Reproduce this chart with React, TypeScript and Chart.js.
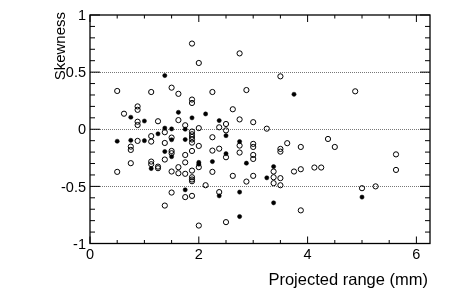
import React, { useEffect, useRef } from "react";
import { Chart, registerables } from "chart.js";

Chart.register(...registerables);

// Open circles
const openX = [
  0.5, 0.625, 0.875, 0.875, 0.875, 0.875, 1.125, 1.25, 1.5, 1.625, 1.625, 1.75, 1.875, 1.875, 1.875,
  2.0, 2.0, 2.25, 2.375, 2.5, 2.625, 2.75, 2.75, 2.875, 3.0, 3.25, 3.5, 4.875,
  0.5, 0.75, 0.75, 0.75, 0.875, 1.125, 1.125, 1.125, 1.125, 1.25, 1.25, 1.375, 1.375, 1.375, 1.375,
  1.5, 1.5, 1.5, 1.5, 1.5, 1.625, 1.625, 1.75, 1.75, 1.75, 1.75,
  1.875, 1.875, 1.875, 1.875, 1.875, 1.875, 1.875, 1.875, 1.875, 1.875, 1.875,
  2.0, 2.0, 2.0, 2.125, 2.25, 2.25, 2.25, 2.375, 2.375, 2.5, 2.5, 2.5, 2.625, 2.75, 2.75, 2.875,
  3.0, 3.0, 3.0, 3.0, 3.0, 3.375, 3.375, 3.375, 3.5, 3.5, 3.5, 3.5, 3.625, 3.75, 3.875, 3.875, 3.875,
  4.125, 4.25, 4.375, 4.5, 5.0, 5.25, 5.625, 5.625,
];
const openY = [
  0.335, 0.136, 0.2, 0.17, 0.066, 0.037, 0.326, 0.07, 0.364, 0.31, 0.08, 0.035, 0.75, 0.26, 0.23,
  0.58, 0.01, 0.326, 0.017, 0.046, 0.175, 0.664, 0.086, 0.343, 0.062, 0.005, 0.463, 0.332,
  -0.373, -0.152, -0.181, -0.297, -0.102, -0.06, -0.108, -0.283, -0.306, -0.327, -0.341, -0.026, -0.12, -0.265, -0.668,
  -0.073, -0.19, -0.21, -0.37, -0.554, -0.332, -0.385, -0.29, -0.39, -0.225, -0.594,
  -0.02, -0.044, -0.067, -0.09, -0.117, -0.19, -0.362, -0.42, -0.44, -0.455, -0.583,
  -0.146, -0.332, -0.843, -0.49, -0.07, -0.187, -0.373, -0.17, -0.55, -0.01, -0.245, -0.813, -0.408, -0.143, -0.204, -0.458,
  -0.128, -0.155, -0.225, -0.26, -0.408, -0.37, -0.42, -0.472, -0.172, -0.196, -0.428, -0.49, -0.122, -0.37, -0.155, -0.35, -0.71,
  -0.335, -0.335, -0.085, -0.155, -0.516, -0.5, -0.22, -0.356,
];

// Filled circles
const filledX = [
  0.5, 0.75, 0.75, 1.0, 1.0, 1.125, 1.25, 1.375, 1.375, 1.375, 1.5, 1.5, 1.5, 1.625, 1.75, 1.75, 1.75,
  1.875, 2.0, 2.0, 2.125, 2.25, 2.375, 2.375, 2.5, 2.5, 2.75, 2.75, 2.75, 2.875, 3.25, 3.375, 3.375, 3.75, 5.0,
];
const filledY = [
  -0.105, 0.105, -0.097, 0.072, -0.1, -0.344, -0.04, 0.47, 0.01, -0.195, 0.003, -0.092, -0.24, 0.148, 0.0, -0.09, -0.53,
  0.1, -0.29, -0.306, 0.134, -0.283, 0.076, -0.583, -0.056, -0.214, -0.108, -0.55, -0.764, -0.297, -0.425, -0.327, -0.644, 0.306, -0.594,
];

const xTickValues = [0, 2, 4, 6];
const xTickLabels = ["0", "2", "4", "6"];
const yTickValues = [-1, -0.5, 0, 0.5, 1];
const yTickLabels = ["-1", "-0.5", "0", "0.5", "1"];
const refLines = [-0.5, 0, 0.5];
const xTitle = "Projected range (mm)";
const yTitle = "Skewness";

const X_MIN = 0;
const X_MAX = 6.25;
const Y_MIN = -1;
const Y_MAX = 1;

const FONT = '"Liberation Sans", Arial, Helvetica, sans-serif';

const framePlugin = {
  id: "rootFrame",
  beforeDatasetsDraw(chart: any) {
    const { ctx, chartArea, scales } = chart;
    const y = scales.y;
    ctx.save();
    ctx.strokeStyle = "#777";
    ctx.lineWidth = 1;
    ctx.setLineDash([1, 1]);
    refLines.forEach((v) => {
      const py = Math.round(y.getPixelForValue(v)) + 0.5;
      ctx.beginPath();
      ctx.moveTo(chartArea.left, py);
      ctx.lineTo(chartArea.right, py);
      ctx.stroke();
    });
    ctx.restore();
  },
  afterDatasetsDraw(chart: any) {
    const { ctx, chartArea, scales } = chart;
    const xs = scales.x;
    const ys = scales.y;
    const { left, right, top, bottom } = chartArea;
    ctx.save();
    ctx.strokeStyle = "#000";
    ctx.lineWidth = 1.3;
    ctx.setLineDash([]);
    ctx.strokeRect(left, top, right - left, bottom - top);

    ctx.lineWidth = 1;
    // x ticks every 0.5
    for (let i = 0; i <= 12; i++) {
      const v = i * 0.5;
      const px = xs.getPixelForValue(v);
      const major = i % 4 === 0;
      const len = major ? 7 : 3.5;
      ctx.beginPath();
      ctx.moveTo(px, bottom);
      ctx.lineTo(px, bottom - len);
      ctx.moveTo(px, top);
      ctx.lineTo(px, top + len);
      ctx.stroke();
    }
    // y ticks every 0.1
    for (let i = -10; i <= 10; i++) {
      const v = i / 10;
      const py = ys.getPixelForValue(v);
      const major = i % 5 === 0;
      const len = major ? 10 : 5;
      ctx.beginPath();
      ctx.moveTo(left, py);
      ctx.lineTo(left + len, py);
      ctx.moveTo(right, py);
      ctx.lineTo(right - len, py);
      ctx.stroke();
    }

    ctx.fillStyle = "#000";
    ctx.font = `14.5px ${FONT}`;
    // y tick labels
    ctx.textAlign = "right";
    ctx.textBaseline = "alphabetic";
    yTickValues.forEach((v, i) => {
      const py = ys.getPixelForValue(v);
      ctx.fillText(yTickLabels[i], left - 4, py + 5.2);
    });
    // x tick labels
    ctx.textAlign = "center";
    xTickValues.forEach((v, i) => {
      const px = xs.getPixelForValue(v);
      ctx.fillText(xTickLabels[i], px, bottom + 15);
    });

    // titles
    ctx.font = `16.5px ${FONT}`;
    ctx.textAlign = "right";
    ctx.fillText(xTitle, right - 2, 285);

    ctx.save();
    ctx.font = `15px ${FONT}`;
    ctx.translate(65, 12);
    ctx.rotate(-Math.PI / 2);
    ctx.textAlign = "right";
    ctx.fillText(yTitle, 0, 0);
    ctx.restore();

    ctx.restore();
  },
};

export default function App() {
  const canvasRef = useRef<HTMLCanvasElement | null>(null);

  useEffect(() => {
    if (!canvasRef.current) return;
    const openData = openX.map((x, i) => ({ x, y: openY[i] }));
    const filledData = filledX.map((x, i) => ({ x, y: filledY[i] }));
    const chart = new Chart(canvasRef.current, {
      type: "scatter",
      data: {
        datasets: [
          {
            label: "open",
            data: openData,
            pointStyle: "circle",
            pointRadius: 2.6,
            borderWidth: 1,
            borderColor: "#000",
            backgroundColor: "rgba(0,0,0,0)",
          },
          {
            label: "filled",
            data: filledData,
            pointStyle: "circle",
            pointRadius: 2.1,
            borderWidth: 0.5,
            borderColor: "#000",
            backgroundColor: "#000",
          },
        ],
      },
      options: {
        responsive: false,
        animation: false,
        events: [],
        layout: { padding: { left: 90, right: 20, top: 15, bottom: 61.5 } },
        plugins: {
          legend: { display: false },
          tooltip: { enabled: false },
        },
        scales: {
          x: { type: "linear", min: X_MIN, max: X_MAX, display: false },
          y: { type: "linear", min: Y_MIN, max: Y_MAX, display: false },
        },
      },
      plugins: [framePlugin],
    });
    return () => chart.destroy();
  }, []);

  return (
    <div style={{ position: "absolute", left: 0, top: 0, width: 450, height: 305, background: "#fff" }}>
      <canvas ref={canvasRef} width={450} height={305} />
    </div>
  );
}
